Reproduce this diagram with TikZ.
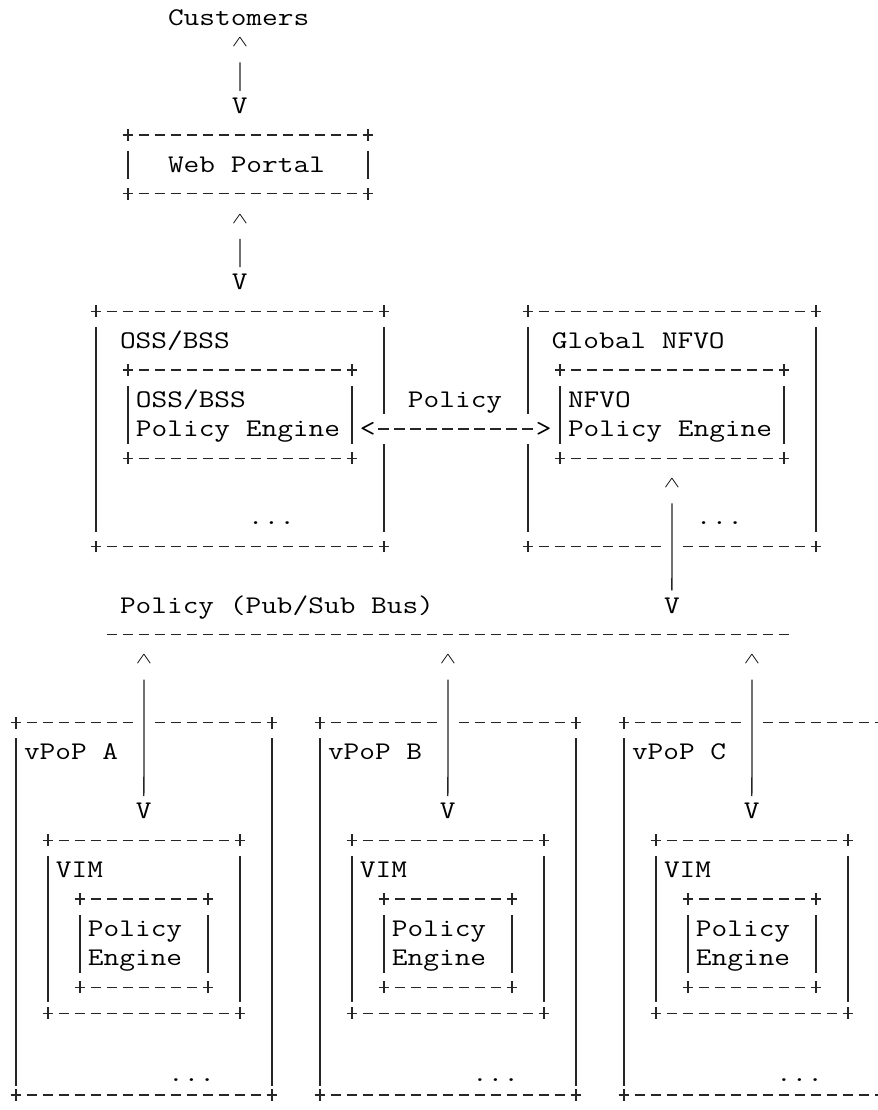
\documentclass[tikz,border=0pt]{standalone}
\usepackage{graphicx}
\usepackage{fontspec}
\newfontfamily\asciifont{lmmono12-regular.otf}[FakeStretch=1.2]
% grid helpers: one x unit is one character column, one y unit is one text row
\newcommand\aplus[2]{\draw[ink] ([xshift=-4.1pt]#1,#2) -- ([xshift=4.1pt]#1,#2) ([yshift=-4.4pt]#1,#2) -- ([yshift=4.4pt]#1,#2);}
\newcommand\ahdash[3]{\draw[ink, dash pattern=on 7.9pt off 4.1pt] ([xshift=-3.95pt]#1,#3) -- ([xshift=3.95pt]#2,#3);}
\newcommand\avbar[3]{\draw[ink] (#1,#2-0.47) -- (#1,#3+0.5);}
% a wide, flat, thin caret sitting in the upper half of the row
\newcommand\upcaret{\raisebox{5.85pt}[11.8pt][0pt]{\scalebox{0.88}[0.56]{$\wedge$}}}
\begin{document}
\begin{tikzpicture}[x=12pt, y=-22.039pt,
  ink/.style={draw=black!85, line width=0.95pt},
  lbl/.style={anchor=base west, inner sep=0pt, outer sep=0pt, yshift=-5.85pt, text=black,
    font=\asciifont\fontsize{19.05pt}{22pt}\selectfont},
  caret/.style={lbl, anchor=base},
  link/.style={ink, shorten <=5.85pt, shorten >=5.25pt},
  dashlink/.style={ink, dash pattern=on 7.9pt off 4.1pt, dash phase=9.9375pt}]
\useasboundingbox (-1,0.4045) rectangle (53.875,38.179);
\clip (-1,0.4045) rectangle (53.875,38.179);

% customers and web portal
\node[lbl] (cust) at (9.5,1) {Customers};
\node[caret] (upweb) at (14,2) {\upcaret};
\node[lbl] (dnweb) at (13.5,4) {V};
\draw[link] (upweb) -- (dnweb);

\aplus{7}{5}\aplus{22}{5}\aplus{7}{7}\aplus{22}{7}
\ahdash{8}{21}{5}\ahdash{8}{21}{7}
\avbar{7}{6}{6}\avbar{22}{6}{6}
\node[lbl] (web) at (9.5,6) {Web Portal};

\node[caret] (uposs) at (14,8) {\upcaret};
\node[lbl] (dnoss) at (13.5,10) {V};
\draw[link] (uposs) -- (dnoss);

% OSS/BSS
\aplus{5}{11}\aplus{23}{11}\aplus{5}{19}\aplus{23}{19}
\ahdash{6}{22}{11}\ahdash{6}{22}{19}
\avbar{5}{12}{18}\avbar{23}{12}{14}\avbar{23}{16}{18}
\node[lbl] (oss) at (6.5,12) {OSS/BSS};
\aplus{7}{13}\aplus{21}{13}\aplus{7}{16}\aplus{21}{16}
\ahdash{8}{20}{13}\ahdash{8}{20}{16}
\avbar{7}{14}{15}\avbar{21}{14}{15}
\node[lbl] (osspe1) at (7.5,14) {OSS/BSS};
\node[lbl] (osspe2) at (7.5,15) {Policy Engine};
\node[lbl] (ossmore) at (14.5,18) {...};

% policy exchange between the two policy engines
\node[lbl] (pollbl) at (24.5,14) {Policy};
\node[lbl] (lt) at (21.5,15) {<};
\node[lbl] (gt) at (32.5,15) {>};
\draw[dashlink] ([yshift=5.85pt]lt.base east) -- ([yshift=5.85pt]gt.base west);

% Global NFVO
\aplus{32}{11}\aplus{50}{11}\aplus{32}{19}\aplus{50}{19}
\ahdash{33}{49}{11}\ahdash{33}{40}{19}\ahdash{42}{49}{19}
\avbar{32}{12}{14}\avbar{32}{16}{18}\avbar{50}{12}{18}
\node[lbl] (nfvo) at (33.5,12) {Global NFVO};
\aplus{34}{13}\aplus{48}{13}\aplus{34}{16}\aplus{48}{16}
\ahdash{35}{47}{13}\ahdash{35}{47}{16}
\avbar{34}{14}{15}\avbar{48}{14}{15}
\node[lbl] (nfvope1) at (34.5,14) {NFVO};
\node[lbl] (nfvope2) at (34.5,15) {Policy Engine};
\node[lbl] (nfvomore) at (42.5,18) {...};
\node[caret] (upnfvo) at (41,17) {\upcaret};
\node[lbl] (dnbus) at (40.5,21) {V};
\draw[link] (upnfvo) -- (dnbus);

% pub/sub bus
\node[lbl] (bus) at (6.5,21) {Policy (Pub/Sub Bus)};
\ahdash{6}{48}{22}

% vPoPs with their VIM and policy engine
\foreach \dx/\vp in {0/A,19/B,38/C}{
  \node[caret] (up\vp) at (\dx+8,23) {\upcaret};
  \node[lbl] (dn\vp) at (\dx+7.5,28) {V};
  \draw[link] (up\vp) -- (dn\vp);
  \aplus{\dx}{25}\aplus{\dx+16}{25}\aplus{\dx}{37.67}\aplus{\dx+16}{37.67}
  \ahdash{\dx+1}{\dx+7}{25}\ahdash{\dx+9}{\dx+15}{25}\ahdash{\dx+1}{\dx+15}{37.67}
  \avbar{\dx}{26}{36.86}\avbar{\dx+16}{26}{36.86}
  \node[lbl] (vpop\vp) at (\dx+0.5,26) {vPoP \vp};
  \aplus{\dx+2}{29}\aplus{\dx+14}{29}\aplus{\dx+2}{34.89}\aplus{\dx+14}{34.89}
  \ahdash{\dx+3}{\dx+13}{29}\ahdash{\dx+3}{\dx+13}{34.89}
  \avbar{\dx+2}{30}{34}\avbar{\dx+14}{30}{34}
  \node[lbl] (vim\vp) at (\dx+2.5,30) {VIM};
  \aplus{\dx+4}{31}\aplus{\dx+12}{31}\aplus{\dx+4}{34}\aplus{\dx+12}{34}
  \ahdash{\dx+5}{\dx+11}{31}\ahdash{\dx+5}{\dx+11}{34}
  \avbar{\dx+4}{32}{33}\avbar{\dx+12}{32}{33}
  \node[lbl] (peA\vp) at (\dx+4.5,32) {Policy};
  \node[lbl] (peB\vp) at (\dx+4.5,33) {Engine};
  \node[lbl] (more\vp) at (\dx+9.5,36.94) {...};
}
\end{tikzpicture}
\end{document}
